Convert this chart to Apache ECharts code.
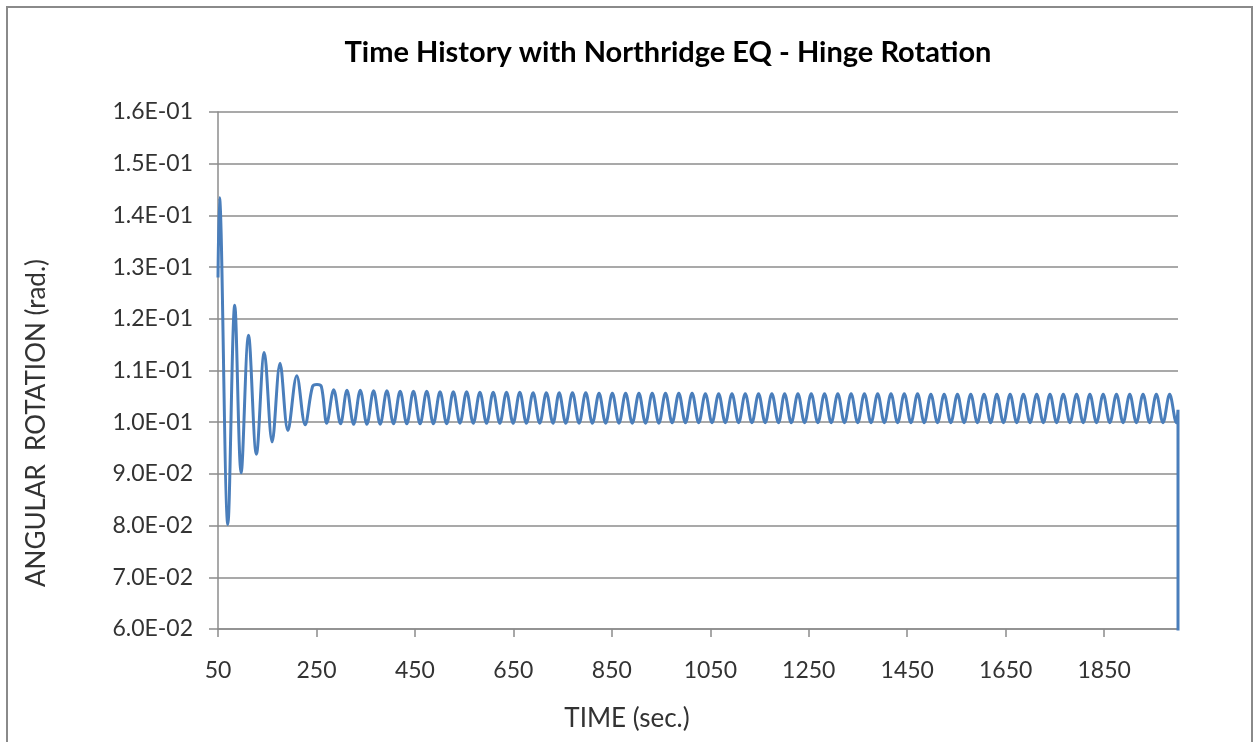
<!DOCTYPE html>
<html>
<head>
<meta charset="utf-8">
<script src="https://cdn.jsdelivr.net/npm/echarts@6/dist/echarts.min.js"></script>
<style>
  html, body { margin: 0; padding: 0; background: #fff; }
  #chart { width: 1254px; height: 742px; }
</style>
</head>
<body>
<div id="chart"></div>
<script>
// --- data ---
const yTickLabels = ["6.0E-02", "7.0E-02", "8.0E-02", "9.0E-02", "1.0E-01", "1.1E-01",
  "1.2E-01", "1.3E-01", "1.4E-01", "1.5E-01", "1.6E-01"];
const xTickValues = [50, 250, 450, 650, 850, 1050, 1250, 1450, 1650, 1850];

// damped start (sec, rad)
const transientTime = [50, 53, 70, 84, 97, 112, 128, 144, 160, 176, 192, 210, 227, 242, 251, 260, 271, 285, 299];
const transientValue = [0.128, 0.1434, 0.0802, 0.1226, 0.0902, 0.1168, 0.0938, 0.1135, 0.0962, 0.1114,
  0.0984, 0.1090, 0.0995, 0.1069, 0.1073, 0.1069, 0.0998, 0.1063, 0.0997];

// steady oscillation: crests and troughs
const peakTime = [312, 339, 366, 393, 420, 447, 474, 501, 528, 555, 582, 609, 636, 663, 690, 717,
  743, 770, 797, 824, 851, 878, 905, 932, 959, 986, 1013, 1040, 1067, 1094, 1121, 1148, 1175,
  1201, 1228, 1255, 1282, 1309, 1336, 1363, 1390, 1417, 1444, 1471, 1498, 1525, 1552, 1579,
  1606, 1632, 1659, 1686, 1713, 1740, 1767, 1794, 1821, 1848, 1875, 1902, 1929, 1956, 1983];
const peakValue = [
  0.1062, 0.1062, 0.1061, 0.1061, 0.1060, 0.1060, 0.1060, 0.1059,
  0.1059, 0.1059, 0.1058, 0.1058, 0.1058, 0.1058, 0.1057, 0.1057,
  0.1057, 0.1057, 0.1057, 0.1056, 0.1056, 0.1056, 0.1056, 0.1056,
  0.1056, 0.1056, 0.1056, 0.1055, 0.1055, 0.1055, 0.1055, 0.1055,
  0.1055, 0.1055, 0.1055, 0.1055, 0.1055, 0.1055, 0.1055, 0.1055,
  0.1055, 0.1055, 0.1055, 0.1055, 0.1054, 0.1054, 0.1054, 0.1054,
  0.1054, 0.1054, 0.1054, 0.1054, 0.1054, 0.1054, 0.1054, 0.1054,
  0.1054, 0.1054, 0.1054, 0.1054, 0.1054, 0.1054, 0.1054];
const troughTime = [325.5, 352.5, 379.5, 406.5, 433.5, 460.5, 487.5, 514.5, 541.5, 568.5, 595.5,
  622.5, 649.5, 676.5, 703.5, 730.5, 756.5, 783.5, 810.5, 837.5, 864.5, 891.5, 918.5, 945.5,
  972.5, 999.5, 1026.5, 1053.5, 1080.5, 1107.5, 1134.5, 1161.5, 1188.5, 1214.5, 1241.5, 1268.5,
  1295.5, 1322.5, 1349.5, 1376.5, 1403.5, 1430.5, 1457.5, 1484.5, 1511.5, 1538.5, 1565.5, 1592.5,
  1619.5, 1645.5, 1672.5, 1699.5, 1726.5, 1753.5, 1780.5, 1807.5, 1834.5, 1861.5, 1888.5, 1915.5,
  1942.5, 1969.5, 1996.5];
const troughValue = [
  0.0996, 0.0996, 0.0996, 0.0997, 0.0997, 0.0997, 0.0997, 0.0997,
  0.0998, 0.0998, 0.0998, 0.0998, 0.0998, 0.0998, 0.0998, 0.0998,
  0.0998, 0.0998, 0.0998, 0.0998, 0.0998, 0.0998, 0.0998, 0.0998,
  0.0999, 0.0999, 0.0999, 0.0999, 0.0999, 0.0999, 0.0999, 0.0999,
  0.0999, 0.0999, 0.0999, 0.0999, 0.0999, 0.0999, 0.0999, 0.0999,
  0.0999, 0.0999, 0.0999, 0.0999, 0.0999, 0.0999, 0.0999, 0.0999,
  0.0999, 0.0999, 0.0999, 0.0999, 0.0999, 0.0999, 0.0999, 0.0999,
  0.0999, 0.0999, 0.0999, 0.0999, 0.0999, 0.0999, 0.0999];

// last sample, then the record falls to zero
const endTime = [2000, 2000];
const endValue = [0.1024, 0];

// --- build the series ---
const points = transientTime.map((t, i) => [t, transientValue[i]]);
peakTime.forEach((t, i) => {
  points.push([t, peakValue[i]]);
  points.push([troughTime[i], troughValue[i]]);
});
endTime.forEach((t, i) => points.push([t, endValue[i]]));

const FONT = "Lato, 'Open Sans', sans-serif";
const gridColor = "#8c8c8c";

const chart = echarts.init(document.getElementById("chart"));

chart.setOption({
  backgroundColor: "#fff",
  animation: false,
  grid: { left: 218, right: 76, top: 112, bottom: 113 },

  xAxis: {
    type: "value",
    min: 50,
    max: 2000,
    interval: 200,
    axisLine: { show: true, lineStyle: { color: gridColor, width: 1.5 } },
    axisTick: {
      show: true,
      length: 8,
      customValues: xTickValues,
      lineStyle: { color: gridColor, width: 1.5 },
    },
    axisLabel: {
      customValues: xTickValues,
      margin: 30,
      color: "#333",
      fontFamily: FONT,
      fontSize: 23,
      formatter: (v) => String(v),
    },
    splitLine: { show: false },
  },

  yAxis: {
    type: "value",
    min: 0.06,
    max: 0.16,
    interval: 0.01,
    axisLine: { show: true, lineStyle: { color: gridColor, width: 1.5 } },
    axisTick: { show: true, length: 9, lineStyle: { color: gridColor, width: 1.5 } },
    axisLabel: {
      margin: 25,
      color: "#333",
      fontFamily: FONT,
      fontSize: 23,
      formatter: (v, i) => yTickLabels[i],
    },
    splitLine: { show: true, lineStyle: { color: gridColor, width: 1.5 } },
  },

  series: [
    {
      type: "line",
      data: points,
      showSymbol: false,
      smooth: 0.35,
      clip: true,
      lineStyle: { color: "#4a7ebb", width: 3 },
    },
  ],

  graphic: [
    {
      type: "rect",
      silent: true,
      shape: { x: 7, y: 7, width: 1245, height: 800 },
      style: { fill: "none", stroke: "#8a8a8a", lineWidth: 2 },
    },
    {
      type: "text",
      x: 668,
      y: 53,
      style: {
        text: "Time History with Northridge EQ - Hinge Rotation",
        font: "bold 29px " + FONT,
        fill: "#000",
        align: "center",
        verticalAlign: "middle",
      },
    },
    {
      type: "text",
      x: 627,
      y: 719,
      style: {
        text: "TIME (sec.)",
        font: "26px " + FONT,
        fill: "#333",
        align: "center",
        verticalAlign: "middle",
      },
    },
    {
      type: "text",
      x: 37,
      y: 423,
      rotation: Math.PI / 2,
      style: {
        text: "ANGULAR  ROTATION (rad.)",
        font: "26px " + FONT,
        fill: "#333",
        align: "center",
        verticalAlign: "middle",
      },
    },
  ],
});

window.addEventListener("resize", () => chart.resize());
</script>
</body>
</html>
